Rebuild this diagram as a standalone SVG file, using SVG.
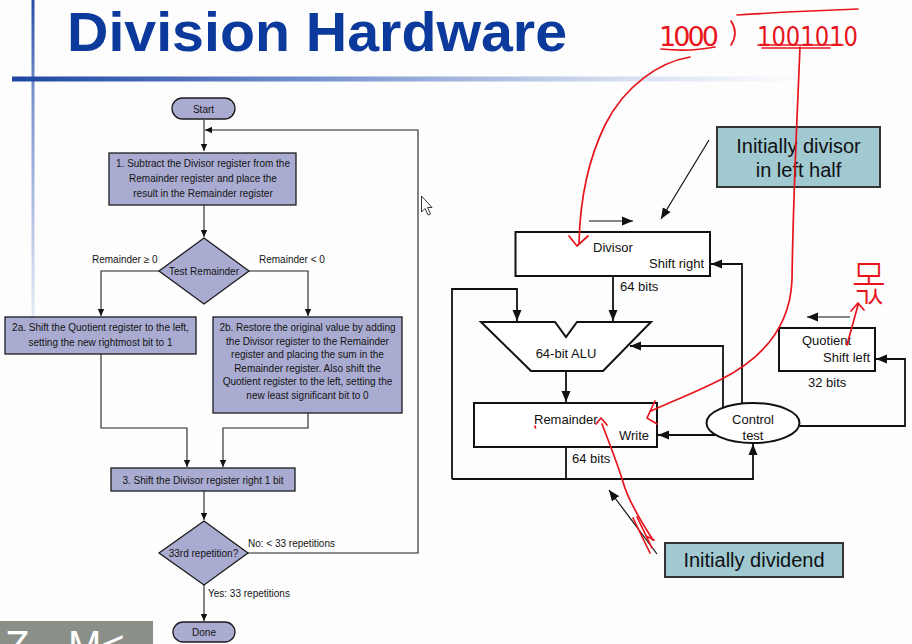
<svg xmlns="http://www.w3.org/2000/svg" width="912" height="644" viewBox="0 0 912 644">
  <defs>
    <style>
      .title { font-family: "Liberation Sans", Arial, sans-serif; font-weight: bold; font-size: 56px; fill: #0b3a9c; }
      .fc { fill: #a9abd0; stroke: #1c1c1c; stroke-width: 1.3; }
      .ft { font-family: "Liberation Sans", Arial, sans-serif; font-size: 10px; fill: #141414; text-anchor: middle; }
      .fl { font-family: "Liberation Sans", Arial, sans-serif; font-size: 10px; fill: #141414; }
      .ln { fill: none; stroke: #222; stroke-width: 1.1; }
      .hb { fill: #ffffff; stroke: #111; stroke-width: 2; }
      .hl { fill: none; stroke: #111; stroke-width: 1.8; }
      .thin { fill: none; stroke: #111; stroke-width: 1.2; }
      .ht { font-family: "Liberation Sans", Arial, sans-serif; font-size: 13px; fill: #111; }
      .note { fill: #a0c9d2; stroke: #333; stroke-width: 2; }
      .nt { font-family: "Liberation Sans", Arial, sans-serif; font-size: 20px; fill: #111; text-anchor: middle; }
      .red { fill: none; stroke: #e8141c; stroke-width: 1.7; stroke-linecap: round; stroke-linejoin: round; }
      .rt { font-family: "DejaVu Sans", "Liberation Sans", sans-serif; font-size: 27px; fill: #e8141c; }
      .kr { font-family: "Noto Sans CJK KR", sans-serif; font-weight: 300; font-size: 44px; fill: #e8141c; text-anchor: middle; }
    </style>
    <linearGradient id="hbar" gradientUnits="userSpaceOnUse" x1="12" y1="0" x2="812" y2="0">
      <stop offset="0" stop-color="#1e45a3"/>
      <stop offset="0.35" stop-color="#6f8ccb"/>
      <stop offset="0.75" stop-color="#d3dcef"/>
      <stop offset="1" stop-color="#ffffff"/>
    </linearGradient>
    <linearGradient id="vbar" gradientUnits="userSpaceOnUse" x1="0" y1="0" x2="0" y2="335">
      <stop offset="0" stop-color="#2a4ea8"/>
      <stop offset="0.3" stop-color="#7d95cf"/>
      <stop offset="1" stop-color="#eef1f8"/>
    </linearGradient>
    <marker id="fa" markerUnits="userSpaceOnUse" markerWidth="8" markerHeight="8" refX="7" refY="4" orient="auto">
      <path d="M0,0.8 L7,4 L0,7.2 z" fill="#111"/>
    </marker>
    <marker id="ha" markerUnits="userSpaceOnUse" markerWidth="12" markerHeight="10" refX="11" refY="5" orient="auto">
      <path d="M0,0.5 L11,5 L0,9.5 z" fill="#111"/>
    </marker>
  </defs>

  <rect width="912" height="644" fill="#fdfdfd"/>

  <!-- slide decoration -->
  <rect x="31.5" y="0" width="3" height="335" fill="url(#vbar)"/>
  <rect x="12" y="76.5" width="800" height="5" fill="url(#hbar)"/>
  <text class="title" x="67" y="51" textLength="500" lengthAdjust="spacingAndGlyphs">Division Hardware</text>

  <!-- flowchart connectors -->
  <g id="flow-connectors">
    <path class="ln" d="M204,120 V151" marker-end="url(#fa)"/>
    <path class="ln" d="M248,553 H418 V130 H205" marker-end="url(#fa)"/>
    <path class="ln" d="M204,205 V237" marker-end="url(#fa)"/>
    <path class="ln" d="M160,271 H101 V316" marker-end="url(#fa)"/>
    <path class="ln" d="M248,271 H308 V316" marker-end="url(#fa)"/>
    <path class="ln" d="M101,354 V428 H187 V467" marker-end="url(#fa)"/>
    <path class="ln" d="M308,413 V428 H223 V467" marker-end="url(#fa)"/>
    <path class="ln" d="M204,491 V520" marker-end="url(#fa)"/>
    <path class="ln" d="M204,585 V621" marker-end="url(#fa)"/>
  </g>

  <!-- flowchart nodes -->
  <g id="start">
    <rect class="fc" x="172" y="98" width="63" height="21" rx="10.5"/>
    <text class="ft" x="203.5" y="112.5">Start</text>
  </g>
  <g id="step1">
    <rect class="fc" x="109" y="153" width="187" height="52"/>
    <text class="ft" x="203" y="167">1.  Subtract the Divisor register from the</text>
    <text class="ft" x="203" y="182">Remainder register and place the</text>
    <text class="ft" x="203" y="197">result in the Remainder register</text>
  </g>
  <g id="test-remainder">
    <polygon class="fc" points="204,238 249,271 204,304 159,271"/>
    <text class="ft" x="204" y="274.5">Test Remainder</text>
    <text class="fl" x="92" y="263">Remainder ≥ 0</text>
    <text class="fl" x="259" y="263">Remainder &lt; 0</text>
  </g>
  <g id="step2a">
    <rect class="fc" x="5" y="317" width="191" height="37"/>
    <text class="ft" x="100.5" y="331">2a.  Shift the Quotient register to the left,</text>
    <text class="ft" x="100.5" y="346">setting the new rightmost bit to 1</text>
  </g>
  <g id="step2b">
    <rect class="fc" x="213" y="317" width="189" height="96"/>
    <text class="ft" x="307.5" y="331">2b.  Restore the original value by adding</text>
    <text class="ft" x="307.5" y="345">the Divisor register to the Remainder</text>
    <text class="ft" x="307.5" y="358">register and placing the sum in the</text>
    <text class="ft" x="307.5" y="372">Remainder register. Also shift the</text>
    <text class="ft" x="307.5" y="385">Quotient register to the left, setting the</text>
    <text class="ft" x="307.5" y="399">new least significant bit to 0</text>
  </g>
  <g id="step3">
    <rect class="fc" x="111" y="468" width="184" height="23"/>
    <text class="ft" x="203" y="483.5">3.  Shift the Divisor register right 1 bit</text>
  </g>
  <g id="repetition-test">
    <polygon class="fc" points="204,521 248,553 204,585 159,553"/>
    <text class="ft" x="203.5" y="556.5">33rd repetition?</text>
    <text class="fl" x="248" y="547">No: &lt; 33 repetitions</text>
    <text class="fl" x="208" y="597">Yes: 33 repetitions</text>
  </g>
  <g id="done">
    <rect class="fc" x="173" y="622" width="62" height="20" rx="10"/>
    <text class="ft" x="204" y="636">Done</text>
  </g>

  <!-- hardware connectors -->
  <g id="hw-connectors">
    <path class="thin" d="M589,221 H633" marker-end="url(#ha)"/>
    <path class="thin" d="M709,140 L661,219" marker-end="url(#ha)"/>
    <path class="thin" d="M657,554 L609,490" marker-end="url(#ha)"/>
    <path class="hl" d="M613,276 V321" marker-end="url(#ha)"/>
    <path class="hl" d="M452,479 V289 H517 V321" marker-end="url(#ha)"/>
    <path class="hl" d="M566,371 V402" marker-end="url(#ha)"/>
    <path class="hl" d="M566,447 V479"/>
    <path class="hl" d="M452,479 H753 V444" marker-end="url(#ha)"/>
    <path class="hl" d="M716,435 H658" marker-end="url(#ha)"/>
    <path class="hl" d="M723,408 V346 H630" marker-end="url(#ha)"/>
    <path class="hl" d="M742,404 V264 H711" marker-end="url(#ha)"/>
    <path class="hl" d="M800,426 H905 V359 H876" marker-end="url(#ha)"/>
    <path class="thin" d="M850,317 H807" marker-end="url(#ha)"/>
  </g>

  <!-- hardware blocks -->
  <g id="divisor-note">
    <rect class="note" x="717" y="127" width="163" height="60"/>
    <text class="nt" x="798.5" y="153">Initially divisor</text>
    <text class="nt" x="798.5" y="177">in left half</text>
  </g>
  <g id="divisor">
    <rect class="hb" x="515.5" y="232" width="194.5" height="44"/>
    <text class="ht" x="593" y="252">Divisor</text>
    <text class="ht" x="704" y="268" text-anchor="end">Shift right</text>
    <text class="ht" x="620" y="291">64 bits</text>
  </g>
  <g id="alu">
    <path class="hb" d="M481,322 H555 L566,337 L577,322 H651 L603,371 H531 Z"/>
    <text class="ht" x="566" y="358" text-anchor="middle">64-bit ALU</text>
  </g>
  <g id="remainder">
    <rect class="hb" x="474" y="403" width="183" height="44"/>
    <text class="ht" x="534" y="424">Remainder</text>
    <text class="ht" x="649" y="440" text-anchor="end">Write</text>
    <text class="ht" x="572" y="463">64 bits</text>
  </g>
  <g id="control">
    <ellipse class="hb" cx="753" cy="423" rx="46.5" ry="20"/>
    <text class="ht" x="753" y="424" text-anchor="middle">Control</text>
    <text class="ht" x="753" y="440" text-anchor="middle">test</text>
  </g>
  <g id="quotient">
    <rect class="hb" x="779" y="328" width="96" height="43"/>
    <text class="ht" x="802" y="345">Quotient</text>
    <text class="ht" x="870" y="362" text-anchor="end">Shift left</text>
    <text class="ht" x="808" y="387">32 bits</text>
  </g>
  <g id="dividend-note">
    <rect class="note" x="665" y="543" width="178" height="34"/>
    <text class="nt" x="754" y="567">Initially dividend</text>
  </g>

  <!-- mouse pointer -->
  <path d="M421.5,196 V212 L425,208.5 L428,215 L430.5,214 L427.5,207.5 L432,207.5 Z" fill="#fff" stroke="#222" stroke-width="0.9"/>

  <!-- corner badge -->
  <rect x="0" y="621" width="153" height="23" fill="#8a8f88"/>
  <text x="5" y="659" font-family="Liberation Sans, Arial, sans-serif" font-size="40" fill="#ffffff">Z</text>
  <text x="68" y="659" font-family="Liberation Sans, Arial, sans-serif" font-size="40" fill="#ffffff">M&lt;</text>

  <!-- hand-drawn pen notes -->
  <g id="pen-notes">
    <text class="rt" x="659" y="46" textLength="60" lengthAdjust="spacing">1000</text>
    <path class="red" d="M731,21 Q739,33 731,45"/>
    <text class="rt" x="757" y="46" textLength="101" lengthAdjust="spacingAndGlyphs">1001010</text>
    <path class="red" d="M737,15 Q800,11 858,9"/>
    <path class="red" d="M661,49 Q690,52 715,47"/>
    <path class="red" d="M758,45 H843 M762,48 H830"/>
    <path class="red" d="M690,57 C660,62 625,85 605,125 C588,160 580,200 579,243"/>
    <path class="red" d="M569,236 L577,246 L588,236"/>
    <path class="red" d="M800,47 C797,120 793,200 792,280 C790,330 760,360 720,380 C690,395 670,402 651,411"/>
    <path class="red" d="M655,401 L647,418 L657,424"/>
    <path class="red" d="M653,540 C640,520 628,500 623,482 C618,465 612,450 602,424"/>
    <path class="red" d="M596,424 L601,418 L607,425"/>
    <path class="red" d="M633,518 L650,553 M637,517 L652,548 M646,536 L654,540"/>
    <path class="red" d="M535,426 L535.5,428"/>
    <text class="kr" transform="translate(869,300) scale(0.85,1.05)">몫</text>
    <path class="red" d="M847,345 L858,305 M851,311 L858,303 L864,310"/>
  </g>
</svg>
